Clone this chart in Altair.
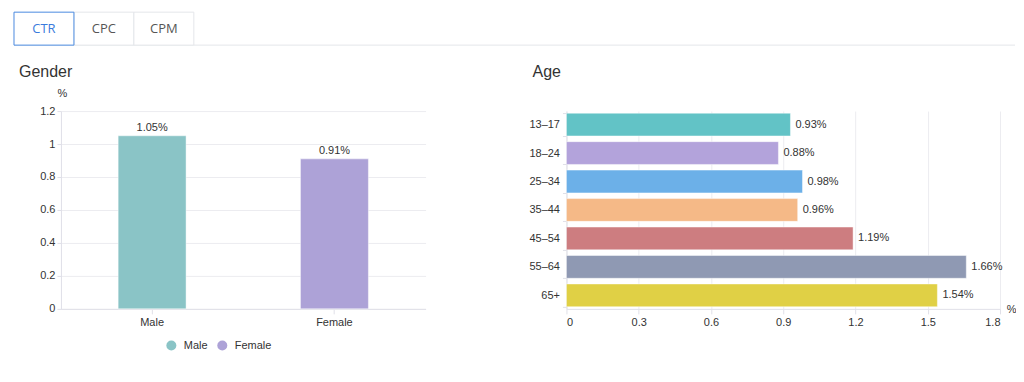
import altair as alt
import pandas as pd

FONT = "Liberation Sans"

tabs = ["CTR", "CPC", "CPM"]
tab_active = [True, False, False]

genders = ["Male", "Female"]
gender_ctr = [1.05, 0.91]
gender_colors = ["#8ac4c6", "#ada2d7"]

ages = ["13–17", "18–24", "25–34", "35–44", "45–54", "55–64", "65+"]
age_ctr = [0.93, 0.88, 0.98, 0.96, 1.19, 1.66, 1.54]
age_colors = ["#62c3c6", "#b3a3db", "#6cb0e8", "#f5b987", "#cd7d80", "#8f99b3", "#e0d045"]

gender_ticks = [0, 0.2, 0.4, 0.6, 0.8, 1, 1.2]
age_ticks = [0, 0.3, 0.6, 0.9, 1.2, 1.5, 1.8]

tab_df = pd.DataFrame({"tab": tabs, "active": tab_active, "order": [1 if a else 0 for a in tab_active]})
gender_df = pd.DataFrame({"gender": genders, "ctr": gender_ctr})
gender_df["label"] = [f"{v:.2f}%" for v in gender_ctr]
age_df = pd.DataFrame({"age": ages, "ctr": age_ctr})
age_df["label"] = [f"{v:.2f}%" for v in age_ctr]

GRID = "#ececf0"
DOMAIN = "#e0e0e8"
TXT = "#333333"

# ---------- tabs ----------
tab_x = alt.X("tab:N", sort=tabs, axis=None,
              scale=alt.Scale(range=[-47, 133], paddingInner=0, paddingOuter=0))
underline = alt.Chart(pd.DataFrame({"k": [0]})).mark_rule(color="#e4e6ea", strokeWidth=1).encode(
    x=alt.value(-47), x2=alt.value(955), y=alt.value(33)
)
tab_rect = alt.Chart(tab_df).mark_rect(fill="white", strokeWidth=1).encode(
    x=tab_x,
    y=alt.value(0), y2=alt.value(33),
    stroke=alt.condition("datum.active", alt.value("#4a8ae0"), alt.value("#e4e6ea")),
    order=alt.Order("order:Q"),
)
tab_text = alt.Chart(tab_df).mark_text(font="Open Sans", fontSize=13, baseline="middle").encode(
    x=tab_x,
    y=alt.value(17),
    text="tab:N",
    color=alt.condition("datum.active", alt.value("#3b7bdc"), alt.value("#555555")),
)
tabs_chart = alt.layer(underline, tab_rect, tab_text).properties(width=940, height=33)

one = pd.DataFrame({"k": [0]})

# ---------- gender ----------
gx = alt.X("gender:N", sort=genders, title=None,
           axis=alt.Axis(labelAngle=0, labelFontSize=11, labelColor=TXT, labelFont=FONT,
                         domainColor=DOMAIN, tickColor=DOMAIN, tickSize=5, labelPadding=3, grid=False))
gy = alt.Y("ctr:Q", title="%",
           scale=alt.Scale(domain=[0, 1.2], nice=False, zero=True),
           axis=alt.Axis(values=gender_ticks, tickCount=7, format="~g", labelFontSize=11, labelColor=TXT,
                         labelFont=FONT, labelOverlap=False,
                         domainColor=DOMAIN, tickColor=DOMAIN, tickSize=4, labelPadding=2,
                         gridColor=GRID, titleAngle=0, titleX=1, titleY=-18, titleAlign="center",
                         titleBaseline="middle", titleFontSize=11, titleFontWeight="normal",
                         titleColor=TXT, titleFont=FONT))
g_bars = alt.Chart(gender_df).mark_bar(size=68, stroke="white", strokeOpacity=0.45, strokeWidth=1).encode(
    x=gx, y=gy,
    color=alt.Color("gender:N", sort=genders,
                    scale=alt.Scale(domain=genders, range=gender_colors),
                    legend=alt.Legend(title=None, orient="none", legendX=105, legendY=229,
                                      direction="horizontal", symbolType="circle", symbolSize=100,
                                      symbolStrokeWidth=0, labelFontSize=11, labelColor=TXT,
                                      labelFont=FONT, labelOffset=7, columnPadding=9, padding=0)),
)
g_text = alt.Chart(gender_df).mark_text(fontSize=11, font=FONT, color=TXT, baseline="alphabetic", dy=-5).encode(
    x=gx, y=gy, text="label:N"
)
g_title = alt.Chart(one).mark_text(text="Gender", fontSize=16, font=FONT, color=TXT, align="left",
                                   baseline="alphabetic").encode(x=alt.value(-42), y=alt.value(-34))
gender_chart = alt.layer(g_bars, g_text, g_title).properties(width=365, height=198)

# ---------- age ----------
ay = alt.Y("age:N", sort=ages, title=None,
           scale=alt.Scale(paddingInner=0.2, paddingOuter=0.075),
           axis=alt.Axis(labelFontSize=11, labelColor=TXT, labelFont=FONT, domainColor=DOMAIN,
                         tickColor=DOMAIN, tickSize=4, labelPadding=3, tickBand="extent", grid=False))
ax = alt.X("ctr:Q", title="%",
           scale=alt.Scale(domain=[0, 1.8], nice=False),
           axis=alt.Axis(values=age_ticks, format="~g", labelFontSize=11, labelColor=TXT, labelFont=FONT,
                         labelOverlap=False,
                         domainColor=DOMAIN, tickColor=DOMAIN, tickSize=5, labelPadding=3,
                         gridColor=GRID, titleX=445, titleY=1, titleAlign="center", titleBaseline="middle",
                         titleFontSize=11, titleFontWeight="normal", titleColor=TXT, titleFont=FONT))
a_bars = alt.Chart(age_df).mark_bar(stroke="white", strokeOpacity=0.45, strokeWidth=1).encode(
    y=ay, x=ax,
    color=alt.Color("age:N", sort=ages, scale=alt.Scale(domain=ages, range=age_colors), legend=None),
)
a_text = alt.Chart(age_df).mark_text(fontSize=11, font=FONT, color=TXT, align="left", baseline="middle", dx=5).encode(
    y=ay, x=ax, text="label:N"
)
a_title = alt.Chart(one).mark_text(text="Age", fontSize=16, font=FONT, color=TXT, align="left",
                                   baseline="alphabetic").encode(x=alt.value(-34), y=alt.value(-34))
age_chart = alt.layer(a_bars, a_text, a_title).properties(width=434, height=198)

row = alt.hconcat(gender_chart, age_chart, spacing=141, bounds="flush").resolve_scale(
    color="independent", x="independent", y="independent"
)
chart = alt.vconcat(tabs_chart, row, spacing=66, bounds="flush").resolve_scale(
    color="independent", x="independent", y="independent"
).properties(
    padding={"left": 5, "top": 3, "right": 0, "bottom": 0},
    background="white",
).configure_view(stroke=None)

chart.save("out.html", embed_options={"renderer": "svg", "actions": False})
